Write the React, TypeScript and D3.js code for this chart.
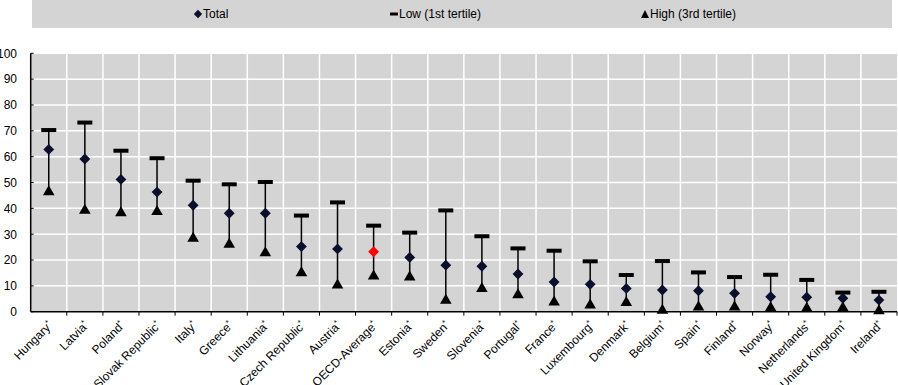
import React from "react";
import * as d3 from "d3";

const countries = [
  "Hungary", "Latvia", "Poland", "Slovak Republic", "Italy", "Greece", "Lithuania",
  "Czech Republic", "Austria", "OECD-Average", "Estonia", "Sweden", "Slovenia",
  "Portugal", "France", "Luxembourg", "Denmark", "Belgium", "Spain", "Finland",
  "Norway", "Netherlands", "United Kingdom", "Ireland",
];
const total = [62.8, 59.1, 51.2, 46.3, 41.2, 38.1, 38.1, 25.2, 24.3, 23.2, 21.0, 18.0, 17.6, 14.6, 11.5, 10.6, 9.0, 8.4, 8.1, 7.1, 5.8, 5.6, 5.2, 4.5];
const low = [70.3, 73.2, 62.3, 59.4, 50.7, 49.3, 50.2, 37.2, 42.3, 33.3, 30.6, 39.2, 29.2, 24.5, 23.6, 19.5, 14.2, 19.6, 15.2, 13.4, 14.3, 12.3, 7.4, 7.7];
const high = [46.8, 39.6, 38.7, 39.2, 28.8, 26.5, 23.2, 15.5, 10.7, 14.2, 13.8, 4.8, 9.4, 6.9, 4.1, 3.0, 3.9, 0.9, 2.2, 2.2, 1.9, 1.7, 1.9, 0.8];
const yTicks = [0, 10, 20, 30, 40, 50, 60, 70, 80, 90, 100];
const highlight = "OECD-Average";

const W = 898;
const H = 385;
const FONT = "'Liberation Sans', Arial, sans-serif";

export default function App() {
  const x = d3.scaleBand<string>().domain(countries).range([30.7, 897]).padding(0);
  const y = d3.scaleLinear().domain([0, 100]).range([311.7, 53.3]);
  const bw = x.bandwidth();
  const diamond = d3.symbol().type(d3.symbolDiamond2).size(75)();
  const tri = (cx: number, cy: number, hw = 5.8, up = 5.5, down = 4.5) =>
    `M${cx},${cy - up}L${cx + hw},${cy + down}L${cx - hw},${cy + down}Z`;
  const x0 = x.range()[0];
  const x1 = x.range()[1];

  return (
    <svg width={W} height={H} style={{ position: "absolute", left: 0, top: 0 }} fontFamily={FONT}>
      <rect x={0} y={0} width={W} height={H} fill="#ffffff" />
      {/* legend */}
      <rect x={32} y={0} width={860} height={28} fill="#d4d4d4" />
      <g fontSize={12} fill="#000">
        <path d={d3.symbol().type(d3.symbolDiamond2).size(45)()!} transform="translate(198,14)" fill="#0a0f2e" />
        <text x={203} y={18}>Total</text>
        <rect x={390} y={12.5} width={8} height={3} fill="#000" />
        <text x={399} y={18}>Low (1st tertile)</text>
        <path d={tri(645, 14.5, 4, 4.5, 3.5)} fill="#000" />
        <text x={650} y={18}>High (3rd tertile)</text>
      </g>
      {/* plot bg */}
      <rect x={x0} y={y(100)} width={x1 - x0} height={y(0) - y(100)} fill="#d4d4d4" />
      {yTicks.slice(1).map((t) => (
        <line key={"h" + t} x1={x0} x2={x1} y1={y(t)} y2={y(t)} stroke="#fff" strokeWidth={1.5} />
      ))}
      {countries.slice(1).map((c) => (
        <line key={"v" + c} x1={x(c)!} x2={x(c)!} y1={y(100)} y2={y(0)} stroke="#fff" strokeWidth={1.5} />
      ))}
      {/* axes */}
      <line x1={x0} x2={x0} y1={y(100)} y2={y(0)} stroke="#000" strokeWidth={1.5} />
      {yTicks.map((t) => (
        <g key={"yt" + t}>
          <line x1={x0} x2={x0 + 3} y1={y(t)} y2={y(t)} stroke="#000" strokeWidth={1} />
          <text x={17} y={y(t)} dy="0.36em" textAnchor="end" fontSize={12}>{t}</text>
        </g>
      ))}
      <line x1={x0} x2={x1} y1={y(0)} y2={y(0)} stroke="#000" strokeWidth={1.5} />
      {countries.map((c) => (
        <line key={"xt" + c} x1={x(c)! + bw} x2={x(c)! + bw} y1={y(0)} y2={y(0) + 4} stroke="#000" strokeWidth={1} />
      ))}
      {countries.map((c) => {
        const cx = x(c)! + bw / 2;
        return (
          <text key={"xl" + c} transform={`translate(${cx + 1.5},${y(0) + 11.5}) rotate(-45)`} textAnchor="end" fontSize={12} dy="0.35em">
            {c}
            <tspan fontSize={8} dy="-0.5em">*</tspan>
          </text>
        );
      })}
      {/* marks */}
      {countries.map((c, i) => {
        const cx = x(c)! + bw / 2;
        return (
          <g key={"m" + c}>
            <line x1={cx} x2={cx} y1={y(low[i])} y2={y(high[i])} stroke="#000" strokeWidth={1.5} />
            <rect x={cx - 7.5} y={y(low[i]) - 2} width={15} height={4} fill="#000" />
            <path d={tri(cx, y(high[i]))} fill="#000" />
            <path d={diamond!} transform={`translate(${cx},${y(total[i])})`} fill={c === highlight ? "#ff0000" : "#0a0f2e"} />
          </g>
        );
      })}
    </svg>
  );
}
